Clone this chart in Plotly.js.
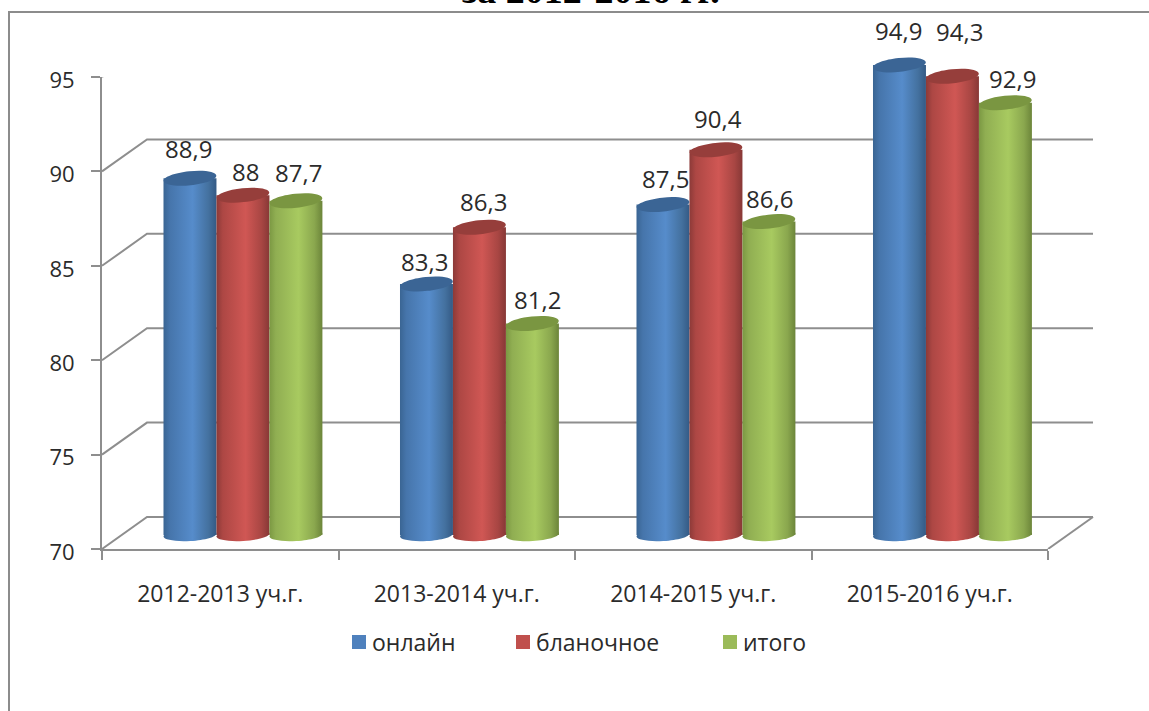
<!DOCTYPE html>
<html><head><meta charset="utf-8">
<script src="https://cdn.plot.ly/plotly-3.0.1.min.js"></script>
<style>html,body{margin:0;padding:0;background:#fff}#c{width:1149px;height:711px}</style>
</head><body><div id="c"></div>
<script>
const categories = ['2012-2013 уч.г.','2013-2014 уч.г.','2014-2015 уч.г.','2015-2016 уч.г.'];
const online = [88.9, 83.3, 87.5, 94.9];
const blank  = [88.0, 86.3, 90.4, 94.3];
const total  = [87.7, 81.2, 86.6, 92.9];
const seriesNames = ['онлайн','бланочное','итого'];
const yTicks = [70,75,80,85,90,95];
const titleText = 'за 2012-2016 гг.';

const seriesValues = [online, blank, total];
const flat = ['#4f81bd','#c0504d','#9bbb59'];
const topCol = ['#3b6595','#963e3b','#7a9641'];
const grads = [
 [['0','#3a6593'],['0.12','#4675ab'],['0.55','#568ccb'],['0.85','#44719f'],['1','#345a85']],
 [['0','#8c3a38'],['0.12','#ad4744'],['0.55','#d05754'],['0.85','#a84643'],['1','#873836']],
 [['0','#7b9843'],['0.12','#90ae52'],['0.55','#a8ca60'],['0.85','#8aa74e'],['1','#6c853a']]
];
const labelShift = [
 [[-1.5,30],[3,24],[3,28]],
 [[-1.5,22],[4.5,26],[5.5,24]],
 [[2.5,26],[2.5,31],[0.5,23]],
 [[-1,34],[7.5,45],[7.5,24]]
];

const W=1149,H=711,L=102,R=1048,B=549,T=25,Y95=77;
const pxPerUnit=(B-Y95)/25, catPx=(R-L)/4;
const dx=45, dy=32;         // depth of the 3D box
const cx=22.7, cy=14;       // the cylinders stand midway in the depth
const barCat=0.224, barPx=barCat*catPx;
const px=v=>(v-L)/(R-L), py=v=>(B-v)/(B-T);

function ellipsePath(rx,ry,deg){
  const t=deg*Math.PI/180,c=Math.cos(t),s=Math.sin(t),k=0.5523;
  const m=(a,b)=>[(a*rx*c-b*ry*s).toFixed(2),(a*rx*s+b*ry*c).toFixed(2)].join(',');
  return 'M'+m(1,0)+'C'+m(1,k)+' '+m(k,1)+' '+m(0,1)+'C'+m(-k,1)+' '+m(-1,k)+' '+m(-1,0)+
         'C'+m(-1,-k)+' '+m(-k,-1)+' '+m(0,-1)+'C'+m(k,-1)+' '+m(1,-k)+' '+m(1,0)+'Z';
}

const shapes=[];
yTicks.forEach(t=>{
  shapes.push({type:'path',layer:'below',xref:'paper',yref:'y',xsizemode:'pixel',ysizemode:'pixel',xanchor:0,yanchor:t,
    path:`M0,0L${dx},${dy}L${R-L+dx},${dy}`,line:{color:'#8e8e8e',width:2},fillcolor:'rgba(0,0,0,0)'});
});
shapes.push({type:'path',layer:'below',xref:'paper',yref:'y',xsizemode:'pixel',ysizemode:'pixel',xanchor:1,yanchor:70,
    path:`M0,0L${dx},${dy}`,line:{color:'#8e8e8e',width:2}});
// chart frame
shapes.push({type:'path',layer:'below',xref:'paper',yref:'paper',
  path:`M${px(9)},${py(711)}L${px(9)},${py(12)}L${px(1149)},${py(12)}`,line:{color:'#8c8c8c',width:2}});

const gradShapes=[];
categories.forEach((c,i)=>{
  seriesValues.forEach((vals,s)=>{
    const x=i+(s-1)*barCat;
    const common={type:'path',xref:'x2',yref:'y2',xsizemode:'pixel',ysizemode:'pixel',xanchor:x,layer:'above',line:{width:0}};
    gradShapes.push([shapes.length,s]);
    shapes.push(Object.assign({},common,{yanchor:70,path:ellipsePath(barPx/2,6,3.5),fillcolor:flat[s]}));
    shapes.push(Object.assign({},common,{yanchor:vals[i],path:ellipsePath(barPx/2,7,6),fillcolor:topCol[s]}));
  });
});

const annotations=[{xref:'paper',yref:'paper',x:px(590.5),y:py(13),xanchor:'center',yanchor:'bottom',showarrow:false,
  text:'<b>'+titleText+'</b>',font:{family:'Liberation Serif',size:38,color:'#000'}}];
categories.forEach((c,i)=>{
  seriesValues.forEach((vals,s)=>{
    annotations.push({xref:'x2',yref:'y2',x:i+(s-1)*barCat,y:vals[i],showarrow:false,
      text:String(vals[i]).replace('.',','),xshift:labelShift[i][s][0],yshift:labelShift[i][s][1],
      xanchor:'center',yanchor:'middle',font:{family:'Open Sans',size:24,color:'#2b2b2b'}});
  });
});

const traces=[{x:categories,y:online,xaxis:'x',yaxis:'y',type:'scatter',mode:'none',showlegend:false,hoverinfo:'skip'}];
seriesValues.forEach((vals,s)=>{
  traces.push({type:'bar',name:seriesNames[s],x:categories,y:vals.map(v=>v-70),base:70,
    xaxis:'x2',yaxis:'y2',marker:{color:flat[s],line:{width:0}},
    legend:s===0?'legend':'legend'+(s+1),hoverinfo:'y'});
});

const legendFont={family:'Open Sans',size:23,color:'#2b2b2b'};
const lg=x=>({x:px(x),y:py(642),xanchor:'left',yanchor:'middle',bgcolor:'rgba(0,0,0,0)',font:legendFont,borderwidth:0,orientation:'h'});

const layout={
  width:W,height:H,autosize:false,paper_bgcolor:'#fff',plot_bgcolor:'rgba(0,0,0,0)',showlegend:true,
  margin:{l:L,r:W-R,t:T,b:H-B,pad:0},barmode:'group',bargap:1-3*barCat,bargroupgap:0,
  xaxis:{type:'category',categoryorder:'array',categoryarray:categories,domain:[0,1],range:[-0.5,3.5],anchor:'y',
    showgrid:false,zeroline:false,showline:true,linecolor:'#8e8e8e',linewidth:2,ticks:'outside',tickson:'boundaries',
    ticklen:9,tickwidth:2,tickcolor:'#8e8e8e',tickfont:{family:'Open Sans',size:23,color:'#2b2b2b'},ticklabelstandoff:23,fixedrange:true},
  yaxis:{domain:[0,(B-Y95)/(B-T)],range:[70,95],tickvals:yTicks,anchor:'x',showgrid:false,zeroline:false,
    showline:true,linecolor:'#8e8e8e',linewidth:2,ticks:'outside',ticklen:9,tickwidth:2,tickcolor:'#8e8e8e',
    tickfont:{family:'Open Sans',size:22,color:'#2b2b2b'},ticklabelstandoff:12,ticklabelshift:3,fixedrange:true},
  xaxis2:{type:'category',categoryorder:'array',categoryarray:categories,anchor:'y2',domain:[0,1],visible:false,
    range:[-0.5-cx/catPx,3.5-cx/catPx],fixedrange:true},
  yaxis2:{anchor:'x2',domain:[0,1],visible:false,fixedrange:true,
    range:[70-cy/pxPerUnit,70-cy/pxPerUnit+(B-T)/pxPerUnit]},
  shapes,annotations,
  legend:lg(339),legend2:lg(503),legend3:lg(710)
};

Plotly.newPlot('c',traces,layout,{displayModeBar:false,responsive:false}).then(gd=>{
  const svg=gd.querySelector('svg.main-svg');
  const NS='http://www.w3.org/2000/svg';
  let defs=svg.querySelector('defs');
  grads.forEach((stops,s)=>{
    const g=document.createElementNS(NS,'linearGradient');
    g.setAttribute('id','cyl'+s);g.setAttribute('x1','0');g.setAttribute('x2','1');g.setAttribute('y1','0');g.setAttribute('y2','0');
    stops.forEach(st=>{const e=document.createElementNS(NS,'stop');e.setAttribute('offset',st[0]);e.setAttribute('stop-color',st[1]);g.appendChild(e);});
    defs.appendChild(g);
  });
  gd.querySelectorAll('.barlayer .trace.bars').forEach((t,s)=>{
    t.querySelectorAll('.point path').forEach(p=>{p.style.fill='url(#cyl'+s+')';});
  });
  gradShapes.forEach(([idx,s])=>{
    const p=gd.querySelector('.shapelayer path[data-index="'+idx+'"]');
    if(p)p.style.fill='url(#cyl'+s+')';
  });
  // legend: slightly larger swatches, text closer to them, as in the original
  ['.legend','.legend2','.legend3'].forEach(sel=>{
    gd.querySelectorAll(sel+' .traces path').forEach(p=>{
      p.style.stroke=p.style.fill;p.style.strokeWidth='2px';
    });
    gd.querySelectorAll(sel+' .traces text').forEach(t=>{t.setAttribute('x','33');});
  });
});
</script>
</body></html>
